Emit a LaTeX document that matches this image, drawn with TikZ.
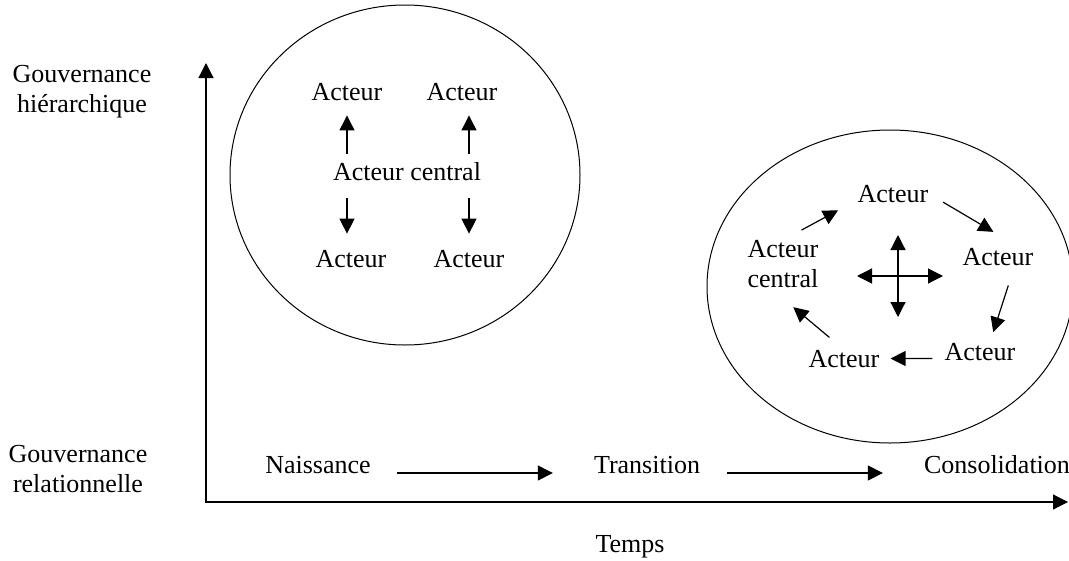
\documentclass[tikz,border=0pt]{standalone}
\usepackage{fontspec}
\setmainfont{Liberation Serif}
\usetikzlibrary{arrows.meta,calc}

\begin{document}
\begin{tikzpicture}[x=1pt,y=-1pt,
  txt/.style={inner sep=0pt,font=\fontsize{26}{30}\selectfont,align=center},
  arr/.style={line width=1.2pt,-{Triangle[length=15pt,width=15pt]}},
  arrs/.style={line width=1.2pt,{Triangle[length=15pt,width=15pt]}-{Triangle[length=15pt,width=15pt]}}]
\useasboundingbox (0,0) rectangle (1069,560);

\coordinate (O) at (206,502);
\coordinate (Ytop) at (206,63);
\coordinate (Xend) at (1068,502);
\draw[arrs] (Ytop) -- (O) -- (Xend);

\node[txt] (gh) at (82,92) {Gouvernance\\hiérarchique};
\node[txt] (gr) at (78,469) {Gouvernance\\relationnelle};
\node[txt,anchor=base] (temps) at (630,552) {Temps};

\node[txt,anchor=base] (nais) at (318,473) {Naissance};
\node[txt,anchor=base] (trans) at (647,473) {Transition};
\node[txt,anchor=base] (conso) at (997,473) {Consolidation};
\draw[arr,shorten <=26pt,shorten >=41pt] (nais.base east) -- (trans.base west);
\draw[arr,shorten <=27pt,shorten >=41pt] (trans.base east) -- (conso.base west);

\draw[line width=1pt] (405,175) ellipse [x radius=175pt,y radius=170pt];
\node[txt,anchor=base] (tl) at (347,100) {Acteur};
\node[txt,anchor=base] (tr) at (462,100) {Acteur};
\node[txt,anchor=base] (cL) at (407,180) {Acteur central};
\node[txt,anchor=base] (bl) at (351,267) {Acteur};
\node[txt,anchor=base] (br) at (469,267) {Acteur};
\draw[arr,shorten <=8pt,shorten >=15pt] (cL.north -| tl) -- (tl.south);
\draw[arr,shorten <=8pt,shorten >=15pt] (cL.north -| br) -- (tr.south -| br);
\draw[arr,shorten <=18pt,shorten >=16pt] (cL.south -| tl) -- (bl.north -| tl);
\draw[arr,shorten <=18pt,shorten >=16pt] (cL.south -| br) -- (br.north);

\draw[line width=1pt] (890,286.5) ellipse [x radius=183pt,y radius=156.5pt];
\node[txt] (cR) at (783,264) {Acteur\\central};
\node[txt,anchor=base] (tA) at (893,202) {Acteur};
\node[txt,anchor=base] (rA) at (998,265) {Acteur};
\node[txt,anchor=base] (brA) at (980,360) {Acteur};
\node[txt,anchor=base] (blA) at (844,367) {Acteur};
\draw[arr,shorten <=21pt,shorten >=22pt] (cR.north) -- (tA.190);
\draw[arr,shorten <=17pt,shorten >=31pt] (tA.east) -- (rA.22);
\draw[arr,shorten <=21pt,shorten >=11pt] (rA.-28) -- (brA.42);
\draw[arr,shorten <=12pt,shorten >=11pt] (brA.191) -- (blA.east);
\draw[arr,shorten <=19pt,shorten >=30pt] (blA.north) -- (cR.242);

\coordinate (hub) at (898,276);
\draw[arrs] ($(hub)+(-41,0)$) -- ($(hub)+(45,0)$);
\draw[arrs] ($(hub)+(0,-41)$) -- ($(hub)+(0,41)$);

\end{tikzpicture}
\end{document}
